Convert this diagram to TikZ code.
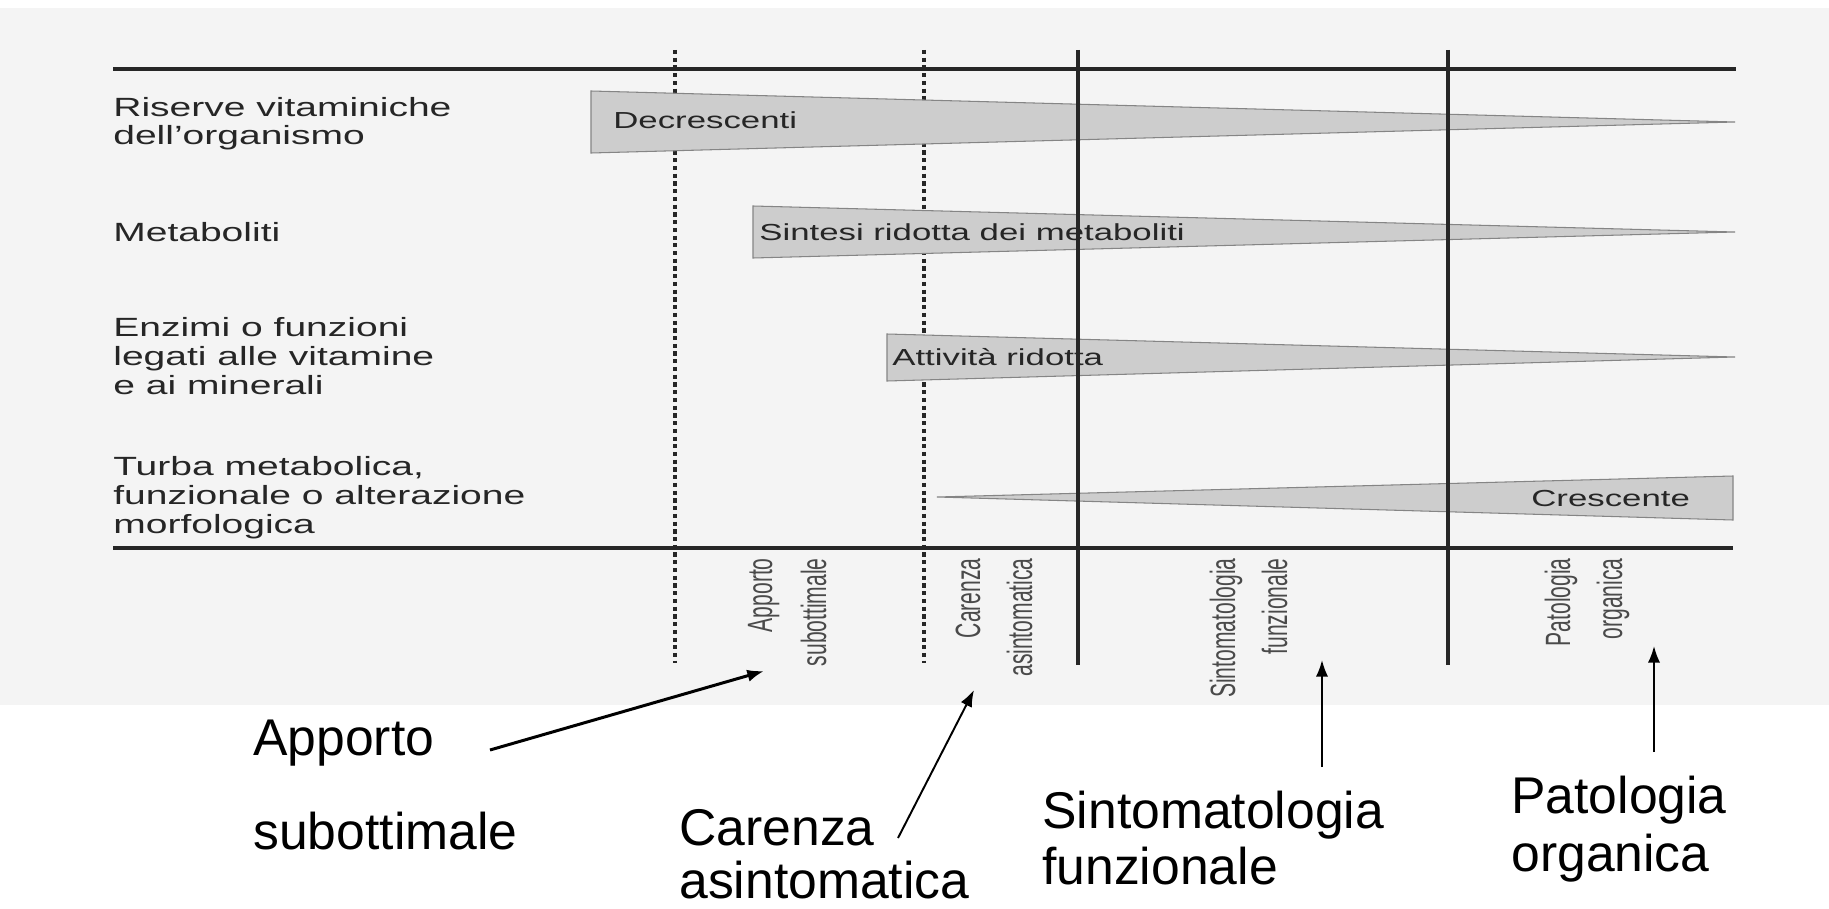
\documentclass[tikz,border=0pt]{standalone}
\usepackage{fontspec}
\setmainfont{Liberation Sans}
\newfontfamily\widefont[FakeStretch=1.48]{Liberation Sans}
\newfontfamily\barfont[FakeStretch=1.5]{Liberation Sans}
\newfontfamily\slimfont[FakeStretch=0.6]{Liberation Sans}
\usetikzlibrary{arrows.meta}

\definecolor{scan}{HTML}{F4F4F4}
\definecolor{ink}{HTML}{262626}
\definecolor{bargray}{HTML}{CDCDCD}
\definecolor{baredge}{HTML}{858585}
\definecolor{phase}{HTML}{4A4A4A}

\tikzset{
	rowlabel/.style={anchor=base west,inner sep=0,align=left,text=ink,
		font=\widefont\fontsize{15pt}{16.5pt}\selectfont},
	barlabel/.style={anchor=base west,inner sep=0,text=ink,
		font=\barfont\fontsize{13.2pt}{15pt}\selectfont},
	phaselabel/.style={anchor=base east,rotate=90,inner sep=0,text=phase,
		font=\slimfont\fontsize{20pt}{22pt}\selectfont},
	callout/.style={anchor=base west,inner sep=0,
		font=\fontsize{29.4pt}{33pt}\selectfont},
	wedge/.style={fill=bargray,draw=baredge,line width=0.6pt},
	hrule/.style={ink,line width=2.6pt},
	stageline/.style={ink,line width=1.8pt},
	dotline/.style={ink,line width=2pt,dash pattern=on 2.4pt off 2pt},
	pointer/.style={-{Latex[length=9.5pt,width=7pt]},line width=1.1pt},
}

\begin{document}
\begin{tikzpicture}[x=0.02cm,y=-0.02cm]
\useasboundingbox (0,0) rectangle (1829,909);

% scanned page
\fill[scan] (0,8) rectangle (1829,705);

% phase borders
\draw[dotline] (675,50)--(675,663);
\draw[dotline] (924,50)--(924,663);

% wedges
\filldraw[wedge] (591,91)--(591,153)--(1735,122)--cycle;
\filldraw[wedge] (753,206)--(753,258)--(1735,232)--cycle;
\filldraw[wedge] (887,334)--(887,381)--(1735,357)--cycle;
\filldraw[wedge] (937,497)--(1733,476)--(1733,520)--cycle;

\draw[stageline] (1078,50)--(1078,665);
\draw[stageline] (1448,50)--(1448,665);

\draw[hrule] (113,69)--(1736,69);
\draw[hrule] (113,548)--(1733,548);

% rows (base = last line)
\node (riserve) at (113,145) [rowlabel] {Riserve vitaminiche\\dell’organismo};
\node (metab) at (113,241) [rowlabel] {Metaboliti};
\node (enzimi) at (113,394) [rowlabel] {Enzimi o funzioni\\legati alle vitamine\\e ai minerali};
\node (turba) at (113,533) [rowlabel] {Turba metabolica,\\funzionale o alterazione\\morfologica};

\node (decr) at (613,129) [barlabel] {Decrescenti};
\node (sintesi) at (759,240) [barlabel] {Sintesi ridotta dei metaboliti};
\node (attiv) at (892,365) [barlabel] {Attività ridotta};
\node (cresc) at (1531,506) [barlabel] {Crescente};

% phases, rotated
\node (faseAa) at (772,558) [phaselabel] {Apporto};
\node (faseAb) at (826,558) [phaselabel] {subottimale};
\node (faseBa) at (980,558) [phaselabel] {Carenza};
\node (faseBb) at (1032,558) [phaselabel] {asintomatica};
\node (faseCa) at (1235,558) [phaselabel] {Sintomatologia};
\node (faseCb) at (1287,558) [phaselabel] {funzionale};
\node (faseDa) at (1570,558) [phaselabel] {Patologia};
\node (faseDb) at (1622,558) [phaselabel] {organica};

% callouts below
\node (apporto) at (253,755) [callout] {Apporto};
\node (subott) at (253,849) [callout] {subottimale};
\node (carenza) at (679,845) [callout] {Carenza};
\node (asint) at (679,898) [callout] {asintomatica};
\node (sintom) at (1042,828) [callout] {Sintomatologia};
\node (funz) at (1042,884) [callout] {funzionale};
\node (patol) at (1511,813) [callout] {Patologia};
\node (organ) at (1511,871) [callout] {organica};

\coordinate (tailA) at (490,750);
\coordinate (tipA) at (764,671);
\coordinate (tailB) at (898,838);
\coordinate (tipB) at (974,690);
\coordinate (tailC) at (1322,767);
\coordinate (tipC) at (1322,660);
\coordinate (tailD) at (1654,752);
\coordinate (tipD) at (1654,646);

\draw[pointer,line width=1.7pt] (tailA)--(tipA);
\draw[pointer] (tailB)--(tipB);
\draw[pointer] (tailC)--(tipC);
\draw[pointer] (tailD)--(tipD);

\end{tikzpicture}
\end{document}
